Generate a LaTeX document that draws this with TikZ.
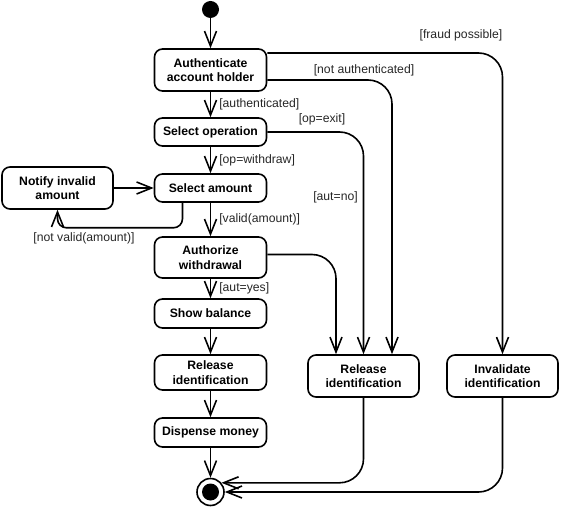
\documentclass[tikz,border=0pt]{standalone}
\usepackage{fontspec}
\setmainfont{Liberation Sans}
\usetikzlibrary{arrows.meta}
\begin{document}
\begin{tikzpicture}[x=1pt,y=-1pt,
  act/.style={draw, line width=1.6pt, rounded corners=8pt, align=center,
    font=\fontsize{12.2}{14.5}\selectfont\bfseries, inner sep=0pt, minimum width=112pt},
  lbl/.style={font=\fontsize{12.2}{14}\selectfont, text=black!85, inner sep=0pt},
  flow/.style={line width=1.6pt, -{Straight Barb[length=15pt,width=12pt,line width=1.6pt]}},
  bigturn/.style={rounded corners=24pt},
]
\useasboundingbox (0,0) rectangle (561,510);

\node[act, minimum height=42pt] (auth) at (210.5,70) {Authenticate\\account holder};
\node[act, minimum height=28pt] (selop) at (210.5,132) {Select operation};
\node[act, minimum height=28pt] (selamt) at (210.5,188) {Select amount};
\node[act, minimum height=42pt, minimum width=111pt] (notify) at (57.5,188) {Notify invalid\\amount};
\node[act, minimum height=41pt] (authw) at (210.5,257.5) {Authorize\\withdrawal};
\node[act, minimum height=29pt] (show) at (210.5,313.5) {Show balance};
\node[act, minimum height=35pt] (rel1) at (210.5,372.5) {Release\\identification};
\node[act, minimum height=29pt] (disp) at (210.5,432.5) {Dispense money};
\node[act, minimum height=42pt, minimum width=111pt] (rel2) at (363.5,376) {Release\\identification};
\node[act, minimum height=42pt, minimum width=111pt] (inval) at (502.5,376) {Invalidate\\identification};
\node[circle, fill, minimum size=17pt, inner sep=0pt] (init) at (210.5,9.5) {};
\node[circle, draw, line width=1.6pt, minimum size=27pt, inner sep=0pt] (final) at (210.5,492) {};
\node[circle, fill, minimum size=17pt, inner sep=0pt] (finalin) at (210.5,492) {};

\draw[flow] (init) -- (auth);
\draw[flow] (auth) -- node[lbl, right=8pt] (l1) {[authenticated]} (selop);
\draw[flow] (selop) -- node[lbl, right=8pt] (l2) {[op=withdraw]} (selamt);
\draw[flow] (selamt) -- node[lbl, right=8pt] (l3) {[valid(amount)]} (authw);
\draw[flow] (authw) -- node[lbl, right=8pt] (l4) {[aut=yes]} (show);
\draw[flow] (show) -- (rel1);
\draw[flow] (rel1) -- (disp);
\draw[flow] (disp) -- (final);
\draw[flow] (notify) -- (selamt);
\draw[flow, rounded corners=9pt] ([xshift=-28pt]selamt.south) -- ++(0,25) -| (notify.south);

\draw[flow, bigturn] ([yshift=17pt]auth.east) -| (inval.north);
\draw[flow, bigturn] ([yshift=-10pt]auth.east) -| ([xshift=28.5pt]rel2.north);
\draw[flow, bigturn] (selop.east) -| (rel2.north);
\draw[flow, bigturn] ([yshift=3pt]authw.east) -| ([xshift=-27.5pt]rel2.north);
\draw[flow, bigturn] (rel2.south) |- (final.40);
\draw[flow, bigturn] (inval.south) |- (final.east);

\node[lbl] (lfraud) at (461,35) {[fraud possible]};
\node[lbl] (lnotauth) at (364,70) {[not authenticated]};
\node[lbl] (lexit) at (322,119) {[op=exit]};
\node[lbl] (lautno) at (335.5,197) {[aut=no]};
\node[lbl] (lnotvalid) at (84,238) {[not valid(amount)]};
\end{tikzpicture}
\end{document}
